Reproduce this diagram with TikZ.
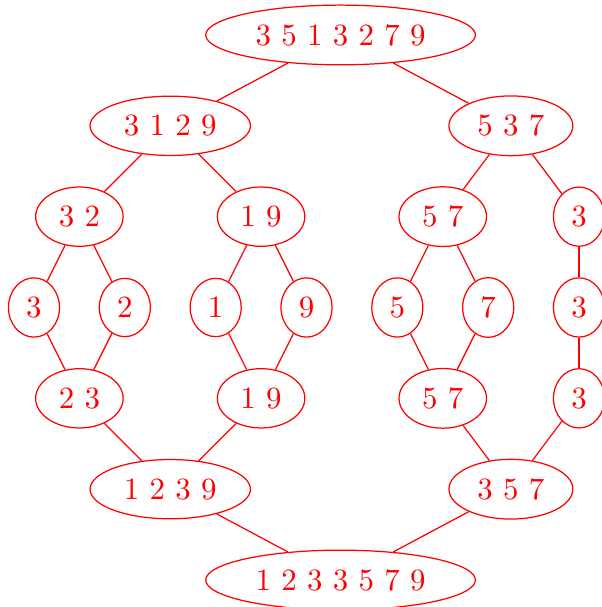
\documentclass[tikz,border=0pt]{standalone}
\usepackage{tikz}
\usetikzlibrary{shapes.geometric}
\tikzset{
  sortnode/.style={ellipse,draw=red,text=red,font=\normalsize},
  link/.style={draw=red},
}
\begin{document}
\begin{tikzpicture}[x=1.032cm,y=1.032cm]
  \useasboundingbox (-0.374,-0.297) rectangle (6.242,6.385);

  % split phase
  \node[sortnode] (root) at (3.375,6) {3 5 1 3 2 7 9};
  \node[sortnode] (sA) at (1.5,5) {3 1 2 9};
  \node[sortnode] (sB) at (5.25,5) {5 3 7};
  \node[sortnode] (sAA) at (0.5,4) {3 2};
  \node[sortnode] (sAB) at (2.5,4) {1 9};
  \node[sortnode] (sBA) at (4.5,4) {5 7};
  \node[sortnode] (sBB) at (6,4) {3};

  % single elements
  \node[sortnode] (l0) at (0,3) {3};
  \node[sortnode] (l1) at (1,3) {2};
  \node[sortnode] (l2) at (2,3) {1};
  \node[sortnode] (l3) at (3,3) {9};
  \node[sortnode] (l4) at (4,3) {5};
  \node[sortnode] (l5) at (5,3) {7};
  \node[sortnode] (l6) at (6,3) {3};

  % merge phase
  \node[sortnode] (mAA) at (0.5,2) {2 3};
  \node[sortnode] (mAB) at (2.5,2) {1 9};
  \node[sortnode] (mBA) at (4.5,2) {5 7};
  \node[sortnode] (mBB) at (6,2) {3};
  \node[sortnode] (mA) at (1.5,1) {1 2 3 9};
  \node[sortnode] (mB) at (5.25,1) {3 5 7};
  \node[sortnode] (res) at (3.375,0) {1 2 3 3 5 7 9};

  % edges
  \draw[link] (root) -- (sA);
  \draw[link] (root) -- (sB);
  \draw[link] (sA) -- (sAA);
  \draw[link] (sA) -- (sAB);
  \draw[link] (sB) -- (sBA);
  \draw[link] (sB) -- (sBB);
  \draw[link] (sAA) -- (l0);
  \draw[link] (sAA) -- (l1);
  \draw[link] (sAB) -- (l2);
  \draw[link] (sAB) -- (l3);
  \draw[link] (sBA) -- (l4);
  \draw[link] (sBA) -- (l5);
  \draw[link] (sBB) -- (l6);
  \draw[link] (l0) -- (mAA);
  \draw[link] (l1) -- (mAA);
  \draw[link] (l2) -- (mAB);
  \draw[link] (l3) -- (mAB);
  \draw[link] (l4) -- (mBA);
  \draw[link] (l5) -- (mBA);
  \draw[link] (l6) -- (mBB);
  \draw[link] (mAA) -- (mA);
  \draw[link] (mAB) -- (mA);
  \draw[link] (mBA) -- (mB);
  \draw[link] (mBB) -- (mB);
  \draw[link] (mA) -- (res);
  \draw[link] (mB) -- (res);
\end{tikzpicture}
\end{document}
